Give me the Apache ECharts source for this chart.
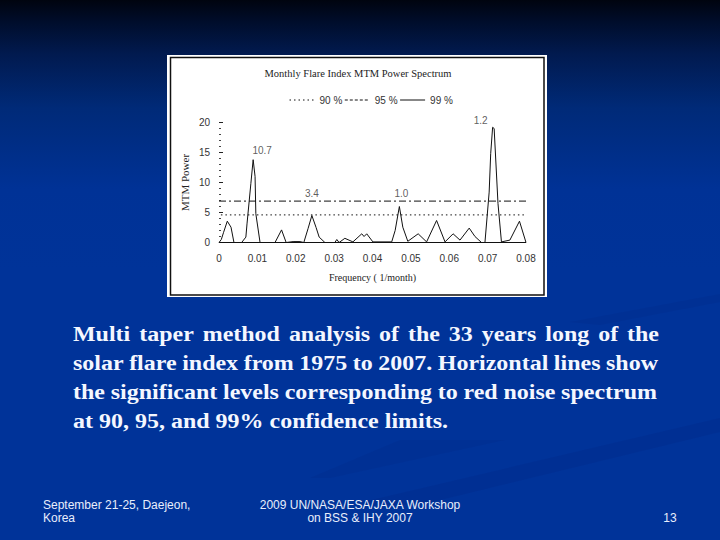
<!DOCTYPE html>
<html><head><meta charset="utf-8">
<style>html,body{margin:0;padding:0;background:#003399}#c{width:720px;height:540px}</style>
<script src="https://cdn.jsdelivr.net/npm/echarts@6/dist/echarts.min.js"></script>
</head><body><div id="c"></div>
<script>
const frequency = [0,.0006,.0012,.00216,.00313,.0039,.0059,.0070,.0073,.0083,.0089,.0094,.0096,.0107,.0146,.0163,.0175,.0193,.0211,.0221,.0232,.0242,.0253,.0261,.0276,.0302,.0307,.0313,.0328,.0349,.0372,.0378,.0385,.0401,.0450,.0459,.0470,.0479,.0492,.0519,.0541,.0567,.0589,.0610,.0628,.0652,.0667,.0684,.0693,.0704,.0708,.0713,.0717,.0727,.0736,.0758,.0783,.0800];
const power = [0,.5,1.7,3.55,2.55,0,0,.9,3.1,9.8,13.8,11,4.8,0,0,2.1,0,.15,.15,0,2.3,4.5,2.5,.9,0,0,.5,0,.7,.1,1.45,1.0,1.45,.1,.1,2,6,2.55,.2,1.45,.1,3.67,.1,1.45,.4,2.4,1,0,0,8.4,14.8,19.2,19,6.5,.1,.4,3.55,0];
const level90 = 4.6;
const level95 = 6.9;
const peakFrequency = [.0089,.0242,.0470,.0713];
const peakPower = [13.8,4.5,6,19.2];
const peakLabels = ['10.7','3.4','1.0','1.2'];
const chartTitle = 'Monthly Flare Index MTM Power Spectrum';
const bodyLines = ['Multi taper method analysis of the 33 years long of the','solar flare index from 1975 to 2007. Horizontal lines show','the significant levels corresponding to red noise spectrum','at 90, 95, and 99% confidence limits.'];

const spec = frequency.map((f,i)=>[f,power[i]]);
const bodyFont = 'bold 22px "Liberation Serif"';
const stretch = 1.09;
const ctx = document.createElement('canvas').getContext('2d'); ctx.font = bodyFont;
const bodyText = [];
bodyLines.forEach((ln,li)=>{
  const words = ln.split(' ');
  const wd = w=>ctx.measureText(w).width*stretch;
  const total = words.reduce((a,w)=>a+wd(w),0);
  const gap = li<3 ? ([586,585,584][li]-total)/(words.length-1) : wd(' ');
  let x = 73;
  words.forEach(w=>{
    bodyText.push({type:'text',x:x,y:333.5+li*29,scaleX:stretch,z:5,style:{text:w,font:bodyFont,fill:'#f4f7ff',textVerticalAlign:'middle'}});
    x += wd(w)+gap;
  });
});
const foot = (t,x,y,a)=>({type:'text',x:x,y:y,z:5,style:{text:t,font:'12px "Liberation Sans"',fill:'#e8eefc',textAlign:a,textVerticalAlign:'middle'}});
const chart = echarts.init(document.getElementById('c'),null,{renderer:'svg'});
chart.setOption({
  animation:false,
  backgroundColor:{type:'linear',x:0,y:0,x2:0,y2:1,colorStops:[{offset:0,color:'#00040f'},{offset:.04,color:'#000d2b'},{offset:.1,color:'#011a4f'},{offset:.2,color:'#002a78'},{offset:.35,color:'#003296'},{offset:.5,color:'#003399'},{offset:1,color:'#003399'}]},
  title:{text:chartTitle,left:353,top:63,textAlign:'center',textStyle:{fontFamily:'Liberation Serif',fontWeight:'normal',fontSize:10.5,color:'#222'}},
  legend:{data:[{name:'90 %'},{name:'95 %',lineStyle:{type:[3,2]}},{name:'99 %'}],left:284,top:90,itemWidth:25,itemHeight:10,itemGap:2,itemStyle:{opacity:0},lineStyle:{width:1},textStyle:{fontFamily:'Liberation Sans',fontSize:10,color:'#333'}},
  grid:{left:219,right:194,top:122.5,bottom:297.5},
  xAxis:{type:'value',min:0,max:.08,interval:.01,splitLine:{show:false},axisTick:{show:false},
    axisLine:{show:false},
    axisLabel:{margin:11,fontFamily:'Liberation Sans',fontSize:10,color:'#333',formatter:v=>v===0?'0':v.toFixed(2)},
    name:'Frequency ( 1/month)',nameLocation:'middle',nameGap:30,nameTextStyle:{fontFamily:'Liberation Serif',fontSize:10,color:'#222'}},
  yAxis:{type:'value',min:0,max:20,interval:5,splitLine:{show:false},axisLine:{show:false},
    axisTick:{show:true,inside:true,length:4,lineStyle:{color:'#222'}},
    minorTick:{show:true,splitNumber:5,length:2,lineStyle:{color:'#444'}},
    axisLabel:{margin:9,fontFamily:'Liberation Sans',fontSize:10,color:'#333'},
    name:'MTM Power',nameLocation:'middle',nameGap:29,nameTextStyle:{fontFamily:'Liberation Serif',fontSize:11,color:'#222'}},
  series:[
    {name:'Baseline',type:'line',symbol:'none',data:[[0,0],[.08,0]],silent:true,lineStyle:{color:'#111',width:1}},
    {name:'Power',type:'line',symbol:'none',data:spec,lineStyle:{color:'#111',width:1}},
    {name:'90 %',type:'line',symbol:'none',data:[[.0005,level90],[.08,level90]],lineStyle:{color:'#111',width:1,type:[1.5,3]}},
    {name:'95 %',type:'line',symbol:'none',data:[[0,level95],[.08,level95]],lineStyle:{color:'#111',width:1,type:[7,3,2,3]}},
    {name:'99 %',type:'line',symbol:'none',data:[[.08,0]],lineStyle:{color:'#111',width:1}},
    {name:'Peaks',type:'scatter',symbolSize:0,data:peakFrequency.map((f,i)=>({value:[f,peakPower[i]],label:{show:true,position:'top',formatter:peakLabels[i],offset:[[9,1],[0,-12],[2,-3],[-12,3]][i],fontFamily:'Liberation Sans',fontSize:10,color:'#333'}}))}
  ],
  graphic:[
    {type:'polygon',z:-3,shape:{points:[[720,418],[720,432],[420,505],[350,505]]},style:{fill:'rgba(0,30,110,.14)'}},
    {type:'polygon',z:-3,shape:{points:[[505,440],[400,440],[310,478],[330,478]]},style:{fill:'rgba(0,30,110,.10)'}},
    {type:'polygon',z:-3,shape:{points:[[720,294],[720,302],[600,325],[570,322]]},style:{fill:'rgba(0,30,110,.10)'}},
    {type:'rect',z:-2,shape:{x:167,y:55,width:380,height:242},style:{fill:'#fff'}},
    {type:'rect',z:-1,shape:{x:170.5,y:57.5,width:373.5,height:237.5},style:{fill:'#fff',stroke:'#111',lineWidth:1.5}},
    ...bodyText,
    foot('September 21-25, Daejeon,',43,505,'left'),foot('Korea',43,518,'left'),
    foot('2009 UN/NASA/ESA/JAXA Workshop',360,505,'center'),foot('on BSS & IHY 2007',360,518,'center'),
    foot('13',670,518,'center')
  ]
});
</script></body></html>
